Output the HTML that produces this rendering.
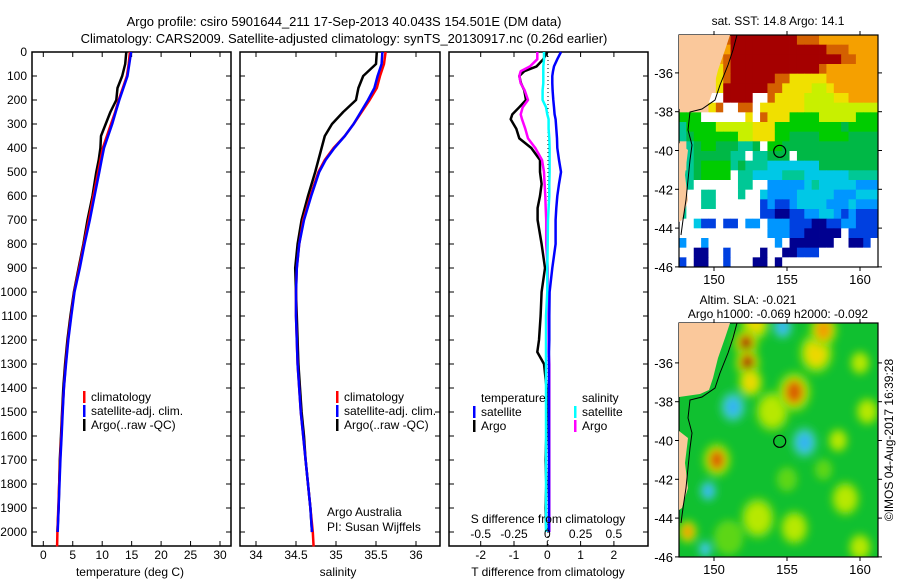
<!DOCTYPE html>
<html><head><meta charset="utf-8"><style>
html,body{margin:0;padding:0;background:#fff;}
svg{display:block;font-family:"Liberation Sans",sans-serif;font-size:12px;}
</style></head><body>
<svg id="chart" width="900" height="580" viewBox="0 0 900 580" xmlns="http://www.w3.org/2000/svg">
<text x="344" y="26" text-anchor="middle" font-size="13">Argo profile: csiro 5901644_211 17-Sep-2013 40.043S 154.501E (DM data)</text>
<text x="344" y="43" text-anchor="middle" font-size="13">Climatology: CARS2009. Satellite-adjusted climatology: synTS_20130917.nc (0.26d earlier)</text>
<g id="p1"></g>
<g id="p2"></g>
<g id="p3"></g>
<g id="m1"></g>
<g id="m2"></g>
<text x="893" y="440" text-anchor="middle" transform="rotate(-90 893 440)">©IMOS 04-Aug-2017 16:39:28</text>
</svg>
<script>
// ---- profile data ----
const depth = [0,50,100,150,200,250,300,350,400,450,500,600,700,800,900,1000,1100,1200,1300,1400,1500,1600,1700,1800,1900,2000];
const tempArgo = [14.1,13.9,13.4,12.6,12.4,11.4,10.6,9.8,9.7,9.4,9.0,8.35,7.5,6.8,6.0,5.2,4.6,4.1,3.7,3.4,3.2,3.0,2.8,2.7,2.6,2.4];
const tempClim = [14.7,14.5,14.2,13.5,12.8,12.2,11.5,10.8,10.1,9.7,9.3,8.5,7.7,6.9,6.1,5.25,4.7,4.2,3.8,3.5,3.25,3.05,2.85,2.7,2.55,2.4];
const tempSat = [14.9,14.6,14.3,13.6,12.9,12.3,11.7,11.0,10.3,9.9,9.5,8.7,7.9,7.0,6.2,5.3,4.75,4.25,3.85,3.5,3.3,3.1,2.9,2.75,2.6,2.45];
const salArgo = [35.51,35.5,35.34,35.28,35.25,35.09,34.95,34.86,34.82,34.78,34.74,34.65,34.57,34.52,34.49,34.5,34.51,34.52,34.53,34.55,34.57,34.6,34.62,34.65,34.68,34.7];
const salClim = [35.62,35.6,35.55,35.51,35.42,35.32,35.22,35.11,34.97,34.86,34.78,34.68,34.59,34.54,34.51,34.5,34.5,34.51,34.52,34.54,34.56,34.59,34.62,34.65,34.68,34.71];
const salSat = [35.58,35.57,35.52,35.48,35.4,35.31,35.22,35.11,34.98,34.87,34.79,34.69,34.6,34.54,34.51,34.5,34.5,34.51,34.52,34.54,34.56,34.59,34.62,34.65,34.68,34.7];
const depth3 = [0,30,60,80,100,130,160,200,230,260,280,320,360,400,450,500,550,600,650,700,800,900,1000,1100,1200,1250,1300,1400,1500,1600,1700,1800,1900,2000];
const tDiffSat = [0.41,0.3,0.2,0.17,0.15,0.15,0.16,0.18,0.2,0.22,0.25,0.27,0.29,0.3,0.35,0.41,0.35,0.3,0.27,0.25,0.25,0.15,0.07,0.06,0.06,0.05,0.05,0.05,0.05,0.05,0.05,0.05,0.05,0.05];
const tDiffArgo = [0,-0.12,-0.32,-0.69,-0.84,-0.79,-0.69,-0.64,-0.84,-1.05,-1.1,-0.93,-0.84,-0.48,-0.22,-0.22,-0.17,-0.22,-0.29,-0.29,-0.17,-0.07,-0.17,-0.2,-0.25,-0.3,-0.1,-0.02,-0.02,-0.03,-0.05,-0.03,-0.05,-0.03];
const sDiffArgo = [-0.075,-0.075,-0.13,-0.2,-0.21,-0.2,-0.17,-0.145,-0.185,-0.2,-0.19,-0.165,-0.145,-0.09,-0.04,-0.025,-0.02,-0.015,-0.012,-0.008,-0.008,0.003,0.005,0.008,0.01,0.01,0.015,0.015,0.015,0.015,0.015,0.015,0.015,0.015];
const sDiffSat = [-0.025,-0.025,-0.03,-0.03,-0.03,-0.03,-0.035,-0.035,-0.01,0,0.01,0.01,0.015,0.017,0.017,0.017,0.015,0.015,0.01,0.005,0.003,0,0,-0.01,-0.01,-0.01,-0.01,-0.01,-0.01,-0.01,-0.01,-0.01,-0.01,-0.01];
const depthTicks = [0,100,200,300,400,500,600,700,800,900,1000,1100,1200,1300,1400,1500,1600,1700,1800,1900,2000];
const tempTicks = [0,5,10,15,20,25,30];
const salTicks = [34,34.5,35,35.5,36];
const salTickLabels = ["34","34.5","35","35.5","36"];
const tdTicks = [-2,-1,0,1,2];
const sdTicks = [-0.5,-0.25,0,0.25,0.5];
const sdTickLabels = ["-0.5","-0.25","0","0.25","0.5"];
// ---- SST map grid (rows north->south, cols west->east) ----
const sstRows = [
"LLLLLLORRRRRRRRROOOoooooooo",
"LLLLLLoRRRRRRRRRRRRROOOoooo",
"LLLLLoORRRRRRRRRRRRRRROOooo",
"LLLLLYORRRRRRRRRRRROooooooo",
"LLLLLYORRRRRROOYYYYYooooooo",
"LLLLLYRRRRRROOYYYYyyYoooooo",
"LLLLWWRRRRWWOYYYYyyyyYYoooo",
"LLLLYOWWOOWYYYYYYyyyyyyyyyy",
"GGGWWWWWWYWOYYYGGGGyyyyyGGG",
"TGGGGyyyyyYYYGGGGGGGGGgGGGG",
"TgGGGGGGyyYYYGGggggGGGGgggg",
"LTgGGgggTTgWGGggggggggggggg",
"LTgggggTTWTTgggWggggggggggg",
"LTgGGGGTgTTTCCCCCCCgggggggg",
"TTgGGGGWTTCCCCTTTCCCCCCTTTT",
"TTWWWWWWTTWWBBBBBCTCCCCCBBB",
"TWWTTWWWTWWCBBBBCCCCCBBBCCC",
"TWWTTWWWWWWbBbbBCCCCBBBCBBB",
"TWWWWWWWWWWbbNNbbBBCCBbBbbb",
"WWCbbWbbWBBWBBBbbbNNbbBBbbb",
"WWWWWWWWWWWWBBBbbNNNNNWbbbb",
"BWWBWWWWWWWWWBWNNNNNNWWNNbW",
"WWNNWWbWWWWNWWNNbbbWWWWWWWW",
"bWNNWWbWWWNNWNWWWWWWWWWWWWW"
];
// ---- SLA anomaly features: lon, lat, value (m), radius (deg) ----
const slaLon = [152.8,157.0,154.0,160.0,160.5,158.5,157.5,159.0,153.0,155.5,151.0,160.0,155.0,152.2,152.3,152.5,154.7,157.5,155.5,151.3,156.2,150.2,149.6,149.4,148.2];
const slaLat = [-34.0,-35.5,-38.5,-36.0,-38.5,-40.0,-41.5,-43.0,-44.0,-44.5,-45.0,-45.5,-42.0,-35.0,-36.0,-37.0,-34.15,-34.3,-37.5,-38.27,-40.1,-41.0,-42.6,-45.6,-44.7];
const slaVal = [0.1,0.1,0.08,0.07,0.07,0.07,0.05,0.07,0.06,0.06,0.05,0.06,0.04,0.3,0.25,0.12,-0.15,0.15,0.22,-0.15,-0.15,0.18,-0.15,-0.12,0.15];
const slaRad = [1.0,1.2,1.2,0.7,0.8,0.7,0.6,1.0,1.2,1.0,1.0,0.8,0.7,0.9,0.9,0.9,0.7,1.0,1.2,0.9,0.9,1.0,0.6,0.5,0.7];
const floatLon = 154.501, floatLat = -40.043;

const NS="http://www.w3.org/2000/svg";
function el(tag,attrs,parent,txt){const e=document.createElementNS(NS,tag);for(const k in attrs)e.setAttribute(k,attrs[k]);if(txt!==undefined)e.textContent=txt;parent.appendChild(e);return e;}
const TOP=52,BOT=546;
const yD=d=>TOP+d*0.24;

function frame(g,x0,x1,name){
  const r=el('rect',{x:x0,y:TOP,width:x1-x0,height:BOT-TOP,fill:'none',stroke:'#000','stroke-width':1.5},g);
  
  
  depthTicks.forEach(d=>{
    el('line',{x1:x0,x2:x0+5,y1:yD(d),y2:yD(d),stroke:'#000'},g);
    el('line',{x1:x1-5,x2:x1,y1:yD(d),y2:yD(d),stroke:'#000'},g);
  });
}
function xTicks(g,vals,labels,fx,name){
  vals.forEach((v,i)=>{
    const x=fx(v);
    el('line',{x1:x,x2:x,y1:BOT,y2:BOT-5,stroke:'#000'},g);
    el('line',{x1:x,x2:x,y1:TOP,y2:TOP+5,stroke:'#000'},g);
    const t=el('text',{x:x,y:559,'text-anchor':'middle'},g,labels[i]);
    
    
  });
}
function line(g,xs,ds,fx,color,name,w){
  const pts=xs.map((v,i)=>fx(v).toFixed(1)+','+yD(ds[i]).toFixed(1)).join(' ');
  const p=el('polyline',{points:pts,fill:'none',stroke:color,'stroke-width':w||2.5,'stroke-linejoin':'round'},g);
  
  
}
function legend(g,x,y,color,label,name){
  el('rect',{x:x,y:y-10,width:2.5,height:12,fill:color},g);
  const t=el('text',{x:x+8,y:y},g,label);
  
  
}
const svg=document.getElementById('chart');
depthTicks.forEach(d=>{
  const t=el('text',{x:27,y:yD(d)+4,'text-anchor':'end'},svg,String(d));
  
  
});
// panel 1
const p1=document.getElementById('p1');
const xT=t=>43.3+t*5.89;
frame(p1,32,231,'temperature-panel');
xTicks(p1,tempTicks,tempTicks.map(String),xT,'temperature');
line(p1,tempArgo,depth,xT,'#000','temperature-argo-line');
line(p1,tempClim.concat([2.35]),depth.concat([2060]),xT,'#f00','temperature-climatology-line');
line(p1,tempSat,depth,xT,'#00f','temperature-satellite-line');
legend(p1,83,401,'#f00','climatology','legend-climatology');
legend(p1,83,415,'#00f','satellite-adj. clim.','legend-satellite');
legend(p1,83,429,'#000','Argo(..raw -QC)','legend-argo');
el('text',{x:130,y:576,'text-anchor':'middle'},p1,'temperature (deg C)');
// panel 2
const p2=document.getElementById('p2');
const xS=s=>256+(s-34)*80;
frame(p2,240,440,'salinity-panel');
xTicks(p2,salTicks,salTickLabels,xS,'salinity');
line(p2,salArgo,depth,xS,'#000','salinity-argo-line');
line(p2,salClim.concat([34.72]),depth.concat([2060]),xS,'#f00','salinity-climatology-line');
line(p2,salSat,depth,xS,'#00f','salinity-satellite-line');
legend(p2,336,401,'#f00','climatology','legend-climatology');
legend(p2,336,415,'#00f','satellite-adj. clim.','legend-satellite');
legend(p2,336,429,'#000','Argo(..raw -QC)','legend-argo');
el('text',{x:327,y:516},p2,'Argo Australia');
el('text',{x:327,y:531},p2,'PI: Susan Wijffels');
el('text',{x:338,y:576,'text-anchor':'middle'},p2,'salinity');
// panel 3
const p3=document.getElementById('p3');
const xDT=t=>547.3+t*33.3;
const xDS=s=>547.3+s*133.2;
frame(p3,449,648,'difference-panel');
xTicks(p3,tdTicks,tdTicks.map(String),xDT,'t-difference');
el('line',{x1:548,x2:548,y1:TOP,y2:BOT,stroke:'#000','stroke-dasharray':'1,3'},p3);
line(p3,tDiffArgo,depth3,xDT,'#000','t-diff-argo-line');
line(p3,sDiffArgo,depth3,xDS,'#f0f','s-diff-argo-line');
line(p3,sDiffSat,depth3,xDS,'#0ff','s-diff-satellite-line');
line(p3,tDiffSat,depth3,xDT,'#00f','t-diff-satellite-line');
sdTicks.forEach((v,i)=>{
  const t=el('text',{x:xDS(v),y:538,'text-anchor':'middle'},p3,sdTickLabels[i]);
  
  
});
el('text',{x:548,y:523,'text-anchor':'middle'},p3,'S difference from climatology');
el('text',{x:548,y:576,'text-anchor':'middle'},p3,'T difference from climatology');
el('text',{x:481,y:402},p3,'temperature');
el('text',{x:582,y:402},p3,'salinity');
legend(p3,473,416,'#00f','satellite','legend-t-satellite');
legend(p3,473,430,'#000','Argo','legend-t-argo');
legend(p3,574,416,'#0ff','satellite','legend-s-satellite');
legend(p3,574,430,'#f0f','Argo','legend-s-argo');

// ---- maps ----
const MX0=679,MX1=878;
const lonX=l=>714+(l-150)*14.6;
function latY(la,off){return 150.5-(la+40)*19.4+off;}
const sstColors={L:'#fac89b',W:'#ffffff',R:'#a50000',O:'#d46000',o:'#f5a000',Y:'#f0e000',y:'#c8f000',G:'#00cc00',g:'#00b846',T:'#00c896',C:'#00c8e6',B:'#0096ff',b:'#0040e0',N:'#000090'};
const landPts="679,35 730,35 725,50 718,70 713,90 709,102 700,106 679,109";
const landPts2="679,143 688,150 685,175 688,200 682,220 679,222";
const coastPts="737,35 733,50 728,65 720,85 715,100 702,109 690,112 688,130 692,145 690,160 688,180 686,200 683,220 681,235";
function mapAxes(g,y0,y1,off,name){
  el('rect',{x:MX0,y:y0,width:MX1-MX0,height:y1-y0,fill:'none',stroke:'#000','stroke-width':1.2},g);
  [150,155,160].forEach(l=>{
    el('line',{x1:lonX(l),x2:lonX(l),y1:y1,y2:y1+4,stroke:'#000'},g);
    el('line',{x1:lonX(l),x2:lonX(l),y1:y0,y2:y0-4,stroke:'#000'},g);
    const t=el('text',{x:lonX(l),y:y1+17,'text-anchor':'middle',"font-size":13},g,String(l));
    
    
  });
  [-36,-38,-40,-42,-44,-46].forEach(la=>{
    const y=latY(la,off);
    el('line',{x1:MX0-4,x2:MX0,y1:y,y2:y,stroke:'#000'},g);
    el('line',{x1:MX1,x2:MX1+4,y1:y,y2:y,stroke:'#000'},g);
    const t=el('text',{x:673,y:y+5,'text-anchor':'end',"font-size":13},g,String(la));
    
    
  });
  el('polygon',{points:landPts,fill:'#fac89b',transform:'translate(0,'+(y0-35)+')'},g);
  el('polygon',{points:landPts2,fill:'#fac89b',transform:'translate(0,'+(y0-35)+')'},g);
  el('polyline',{points:coastPts,fill:'none',stroke:'#000','stroke-width':1,transform:'translate(0,'+(y0-35)+')'},g);
  const c=el('circle',{cx:lonX(floatLon),cy:latY(floatLat,off),r:6,fill:'none',stroke:'#000','stroke-width':1.2},g);
  
  
}
// SST map
const m1=document.getElementById('m1');
const cw=(MX1-MX0)/27, ch=(267-35)/24;
sstRows.forEach((row,r)=>{
  for(let c=0;c<row.length;c++){
    const cell=el('rect',{x:(MX0+c*cw).toFixed(2),y:(35+r*ch).toFixed(2),width:(cw+0.4).toFixed(2),height:(ch+0.4).toFixed(2),fill:sstColors[row[c]]},m1);
    
    
  }
});
mapAxes(m1,35,267,0,'sst-map');
el('text',{x:778,y:25,'text-anchor':'middle'},m1,'sat. SST: 14.8 Argo: 14.1');
// SLA map
const m2=document.getElementById('m2');
const defs=el('defs',{},m2);
const flt=el('filter',{id:'blur',x:'-50%',y:'-50%',width:'200%',height:'200%'},defs);
el('feGaussianBlur',{stdDeviation:4},flt);
const cp=el('clipPath',{id:'slaclip'},defs);
el('rect',{x:MX0,y:323,width:MX1-MX0,height:234},cp);
const slaG=el('g',{'clip-path':'url(#slaclip)'},m2);
el('rect',{x:MX0,y:323,width:MX1-MX0,height:234,fill:'#10c030'},slaG);
const blobs=el('g',{filter:'url(#blur)'},slaG);
const pxDeg=14.6;
function blob(cx,cy,rx,ry,color,op){
  const e=el('ellipse',{cx:cx,cy:cy,rx:rx,ry:ry,fill:color,'fill-opacity':op||1},blobs);
  
  
}
slaVal.forEach((v,i)=>{
  const cx=lonX(slaLon[i]), cy=latY(slaLat[i],290), r=slaRad[i]*pxDeg;
  if(v>0){
    blob(cx,cy,r*1.0,r*1.2,'#70dc10',0.8);
    if(v>0.055) blob(cx,cy,r*0.7,r*0.85,'#c8ec00',0.85);
    if(v>0.09) blob(cx,cy,r*0.55,r*0.7,'#ecd800');
    if(v>0.12) blob(cx,cy,r*0.55,r*0.7,'#f0a000');
    if(v>0.17) blob(cx,cy,r*0.45,r*0.6,'#d86000');
    if(v>0.24) blob(cx,cy,r*0.35,r*0.55,'#a00000');
  } else {
    blob(cx,cy,r*1.0,r*1.2,'#30c890',0.9);
    blob(cx,cy,r*0.6,r*0.75,'#40c8f0');
    if(v<-0.13) blob(cx,cy,r*0.35,r*0.45,'#2eaaf0');
  }
});
mapAxes(m2,323,557,290,'sla-map');
el('text',{x:748,y:304,'text-anchor':'middle'},m2,'Altim. SLA: -0.021');
el('text',{x:778,y:318,'text-anchor':'middle'},m2,'Argo h1000: -0.069 h2000: -0.092');
</script>
</body></html>
